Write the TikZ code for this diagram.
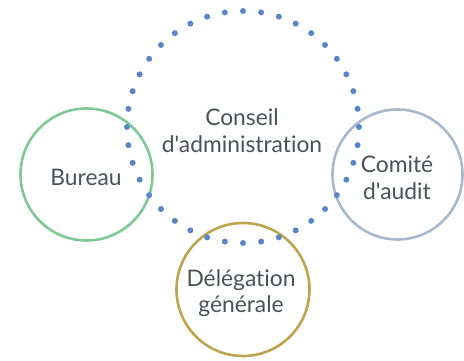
\documentclass[tikz,border=0pt]{standalone}
\usepackage{fontspec}
\setmainfont{Lato}[Ligatures={NoCommon,TeXOff}]
\usetikzlibrary{calc}
\definecolor{dotblue}{HTML}{5B85C9}
\definecolor{ringgreen}{HTML}{80C898}
\definecolor{ringgrey}{HTML}{A9B8CD}
\definecolor{ringgold}{HTML}{BFA450}
\definecolor{txtgrey}{HTML}{4B5157}
\begin{document}
\begin{tikzpicture}[x=1pt,y=1pt,
  ring/.style={circle, line width=2.6pt, inner sep=0pt},
  lbl/.style={anchor=base, inner sep=0pt, text=txtgrey, font=\fontsize{22.8}{27}\selectfont},
  blob/.style={circle, fill=dotblue, inner sep=0pt, minimum size=6pt}]
\useasboundingbox (0,0) rectangle (464,361);
\node[ring, draw=ringgreen, minimum size=132pt] (bureau) at (86.5,186.5) {};
\node[ring, draw=ringgrey, minimum size=130pt] (comite) at (397.5,186.5) {};
\node[ring, draw=ringgold, minimum size=133pt] (deleg) at (243,71.5) {};
\coordinate (ca) at (243,234);
\foreach \i in {0,...,39} {
  \node[blob] (d\i) at ($(ca)+({\i*9}:116)$) {};
}
\node[lbl] (t1) at (242,235) {Conseil};
\node[lbl] (t2) at (242,208) {d'administration};
\node[lbl] (t3) at (86,175) {Bureau};
\node[lbl] (t4) at (397,188) {Comité};
\node[lbl] (t5) at (397,161) {d'audit};
\node[lbl] (t6) at (241,74) {Délégation};
\node[lbl] (t7) at (241,48) {générale};
\end{tikzpicture}
\end{document}
